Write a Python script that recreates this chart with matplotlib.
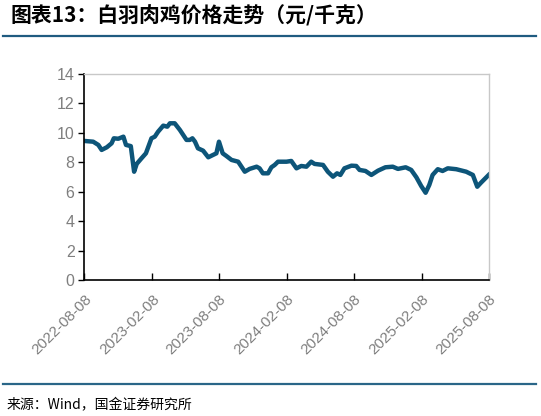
import matplotlib
matplotlib.use('Agg')
import matplotlib.pyplot as plt
import pandas as pd

# 白羽肉鸡价格 (元/千克), values
dates = ['2022-08-08', '2022-09-01', '2022-09-15', '2022-09-24', '2022-10-08',
         '2022-10-21', '2022-10-27', '2022-11-08', '2022-11-22', '2022-11-29',
         '2022-12-12', '2022-12-21', '2022-12-28', '2023-01-10', '2023-01-22',
         '2023-02-06', '2023-02-15', '2023-02-24', '2023-03-10', '2023-03-21',
         '2023-03-28', '2023-04-10', '2023-04-24', '2023-05-12', '2023-05-21',
         '2023-05-28', '2023-06-04', '2023-06-12', '2023-06-26', '2023-07-10',
         '2023-07-23', '2023-08-01', '2023-08-08', '2023-08-18', '2023-08-28',
         '2023-09-11', '2023-09-29', '2023-10-17', '2023-10-30', '2023-11-18',
         '2023-11-26', '2023-12-05', '2023-12-19', '2023-12-28', '2024-01-06',
         '2024-01-15', '2024-02-07', '2024-02-20', '2024-03-05', '2024-03-18',
         '2024-04-01', '2024-04-14', '2024-04-23', '2024-05-16', '2024-05-29',
         '2024-06-12', '2024-06-23', '2024-07-02', '2024-07-13', '2024-08-01',
         '2024-08-14', '2024-08-23', '2024-09-08', '2024-09-24', '2024-10-12',
         '2024-11-01', '2024-11-21', '2024-12-05', '2024-12-26', '2025-01-10',
         '2025-01-24', '2025-02-06', '2025-02-18', '2025-02-28', '2025-03-09',
         '2025-03-23', '2025-04-05', '2025-04-19', '2025-05-12', '2025-06-08',
         '2025-06-26', '2025-07-08', '2025-07-18', '2025-08-08']
prices = [9.45, 9.40, 9.18, 8.84, 9.02,
          9.29, 9.63, 9.60, 9.74, 9.18,
          9.10, 7.36, 7.89, 8.27, 8.61,
          9.63, 9.74, 10.08, 10.49, 10.42,
          10.65, 10.65, 10.20, 9.52, 9.52,
          9.63, 9.40, 8.95, 8.79, 8.34,
          8.50, 8.61, 9.40, 8.61, 8.43,
          8.16, 8.04, 7.36, 7.55, 7.70,
          7.59, 7.25, 7.25, 7.66, 7.82,
          8.04, 8.04, 8.09, 7.59, 7.75,
          7.70, 8.04, 7.89, 7.82, 7.36,
          7.02, 7.25, 7.14, 7.59, 7.77,
          7.75, 7.48, 7.41, 7.14, 7.43,
          7.66, 7.70, 7.55, 7.66, 7.48,
          6.98, 6.39, 5.93, 6.46, 7.14,
          7.53, 7.41, 7.59, 7.53, 7.36,
          7.14, 6.34, 6.61, 7.14]

xtick_dates = ['2022-08-08', '2023-02-08', '2023-08-08', '2024-02-08',
               '2024-08-08', '2025-02-08', '2025-08-08']
yticks = [0, 2, 4, 6, 8, 10, 12, 14]

title = '图表13：白羽肉鸡价格走势（元/千克）'
source = '来源：Wind，国金证券研究所'

plt.rcParams['font.family'] = ['Liberation Sans', 'Noto Sans CJK SC', 'DejaVu Sans']

df = pd.DataFrame({'date': pd.to_datetime(dates), 'price': prices})
xt = pd.to_datetime(xtick_dates)

fig = plt.figure(figsize=(5.41, 4.16), dpi=100)
ax = fig.add_axes([84.3 / 541, 1 - 280 / 416, (488.7 - 84.3) / 541, (280 - 74) / 416])

ax.plot(df['date'], df['price'], color='#0d5579', lw=3.2, solid_joinstyle='round')

ax.set_xlim(xt[0], xt[-1])
ax.set_ylim(0, 14)
ax.set_yticks(yticks)
ax.set_xticks(xt)
ax.set_xticklabels(xtick_dates, rotation=45, ha='right', va='top',
                   rotation_mode='anchor')
ax.tick_params(axis='y', direction='out', length=4, width=1, colors='#000000',
               labelcolor='#7f7f7f', labelsize=11.5, pad=3)
ax.tick_params(axis='x', direction='in', length=5, width=1, colors='#000000',
               labelcolor='#7f7f7f', labelsize=11, pad=9)

for s in ['left', 'bottom']:
    ax.spines[s].set_color('#000000')
    ax.spines[s].set_linewidth(1.2)
for s in ['top', 'right']:
    ax.spines[s].set_color('#c8c8c8')
    ax.spines[s].set_linewidth(1)

# title, rules and source note
fig.text(10 / 541, 1 - 16 / 416, title, fontsize=15, fontweight='bold',
         family=['Noto Sans CJK SC', 'DejaVu Sans'], ha='left', va='center', color='#000000')
fig.add_artist(plt.Line2D([3 / 541, 536 / 541], [1 - 35.5 / 416] * 2,
                          color='#1f5b80', lw=1.6))
fig.add_artist(plt.Line2D([3 / 541, 536 / 541], [1 - 384 / 416] * 2,
                          color='#2a6688', lw=1.6))
fig.text(7 / 541, 1 - 405 / 416, source, fontsize=10,
         family=['Noto Sans CJK SC', 'DejaVu Sans'], ha='left', va='center', color='#000000')

fig.savefig('out.png', dpi=100)
